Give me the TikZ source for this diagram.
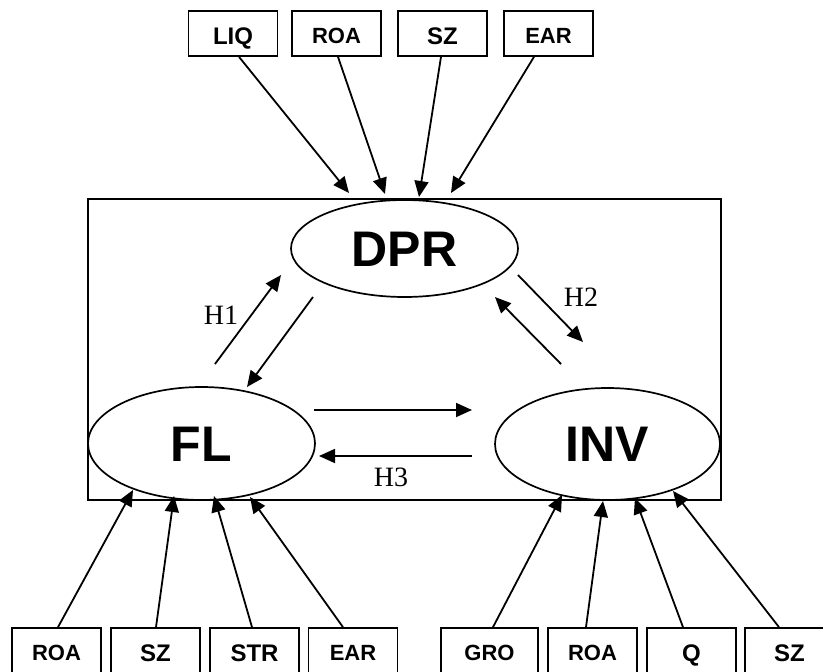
\documentclass[tikz,border=0pt]{standalone}
\usepackage{fontspec}
\setmainfont{Liberation Serif}
\setsansfont{Liberation Sans}
\usetikzlibrary{arrows.meta,shapes.geometric}

\begin{document}
\begin{tikzpicture}[x=1pt,y=-1pt,
  line width=1.7pt,
  varbox/.style={draw, rectangle, minimum width=89pt, minimum height=45pt,
    inner sep=0pt, font=\sffamily\bfseries\fontsize{24pt}{24pt}\selectfont,
    text height=22.2pt, text depth=0pt},
  widebox/.style={varbox, font=\sffamily\bfseries\fontsize{22pt}{22pt}\selectfont,
    text height=20.8pt},
  construct/.style={draw, ellipse, inner sep=0pt, minimum width=227pt,
    font=\sffamily\bfseries\fontsize{50pt}{50pt}\selectfont,
    text height=35.8pt, text depth=0pt},
  hyp/.style={inner sep=0pt, font=\fontsize{28pt}{28pt}\selectfont,
    text height=18.5pt, text depth=0pt},
  arr/.style={-{Triangle[length=16pt,width=14pt]}, line width=1.8pt},
]
\useasboundingbox (0,0) rectangle (823,672);

% frame around the three constructs
\node[draw, line width=1.5pt, minimum width=633pt, minimum height=301pt, inner sep=0pt]
  (frame) at (404.5,349.5) {};

% constructs
\node[construct, minimum height=97pt]  (dpr) at (404.5,248.5) {DPR};
\node[construct, minimum height=113pt] (fl)  at (201.5,443.5) {FL};
\node[construct, minimum width=225pt, minimum height=112pt] (inv) at (607.5,444) {INV};

% determinants of DPR
\node[varbox]  (liq)  at (233,33.5)   {LIQ};
\node[widebox] (roat) at (336.5,33.5) {ROA};
\node[varbox]  (szt)  at (442.5,33.5) {SZ};
\node[widebox] (eart) at (548.5,33.5) {EAR};

% determinants of FL
\node[widebox] (roal) at (56.5,650.5)  {ROA};
\node[varbox]  (szl)  at (155.5,650.5) {SZ};
\node[varbox]  (strl) at (254.5,650.5) {STR};
\node[widebox] (earl) at (353,650.5)   {EAR};

% determinants of INV
\node[widebox, minimum width=97pt] (gro) at (489.5,650.5) {GRO};
\node[widebox] (roar) at (592.5,650.5) {ROA};
\node[varbox]  (q)    at (691.5,650.5) {Q};
\node[varbox]  (szr)  at (789.5,650.5) {SZ};

% arrow ends near the constructs
\coordinate (d1) at (349,193);
\coordinate (d2) at (385,194);
\coordinate (d3) at (419,197);
\coordinate (d4) at (451,193);
\coordinate (f1) at (133,490);
\coordinate (f2) at (174,496);
\coordinate (f3) at (214,496);
\coordinate (f4) at (250,497);
\coordinate (i1) at (562,495);
\coordinate (i2) at (603,501);
\coordinate (i3) at (635,498);
\coordinate (i4) at (673,491);

\draw[arr] ([xshift=6pt]liq.south)     -- (d1);
\draw[arr] ([xshift=1.5pt]roat.south)  -- (d2);
\draw[arr] ([xshift=-1.5pt]szt.south)  -- (d3);
\draw[arr] ([xshift=-14.5pt]eart.south) -- (d4);

\draw[arr] ([xshift=1.5pt]roal.north)  -- (f1);
\draw[arr] ([xshift=0.5pt]szl.north)   -- (f2);
\draw[arr] ([xshift=-2.5pt]strl.north) -- (f3);
\draw[arr] ([xshift=-10pt]earl.north)  -- (f4);

\draw[arr] ([xshift=3.5pt]gro.north)   -- (i1);
\draw[arr] ([xshift=-6.5pt]roar.north) -- (i2);
\draw[arr] ([xshift=-8.5pt]q.north)    -- (i3);
\draw[arr] ([xshift=-10.5pt]szr.north) -- (i4);

% links between the constructs
\coordinate (h1a) at (215,364);  \coordinate (h1b) at (281,275);
\coordinate (h1c) at (313,297);  \coordinate (h1d) at (247,387);
\coordinate (h2a) at (518,275);  \coordinate (h2b) at (583,342);
\coordinate (h2c) at (561,364);  \coordinate (h2d) at (495,297);
\coordinate (h3a) at (314,410);  \coordinate (h3b) at (472,410);
\coordinate (h3c) at (472,456);  \coordinate (h3d) at (319,456);

\draw[arr] (h1a) -- (h1b);
\draw[arr] (h1c) -- (h1d);
\draw[arr] (h2a) -- (h2b);
\draw[arr] (h2c) -- (h2d);
\draw[arr] (h3a) -- (h3b);
\draw[arr] (h3c) -- (h3d);

\node[hyp] (lh1) at (221,315) {H1};
\node[hyp] (lh2) at (581,297) {H2};
\node[hyp] (lh3) at (391,477) {H3};
\end{tikzpicture}
\end{document}
